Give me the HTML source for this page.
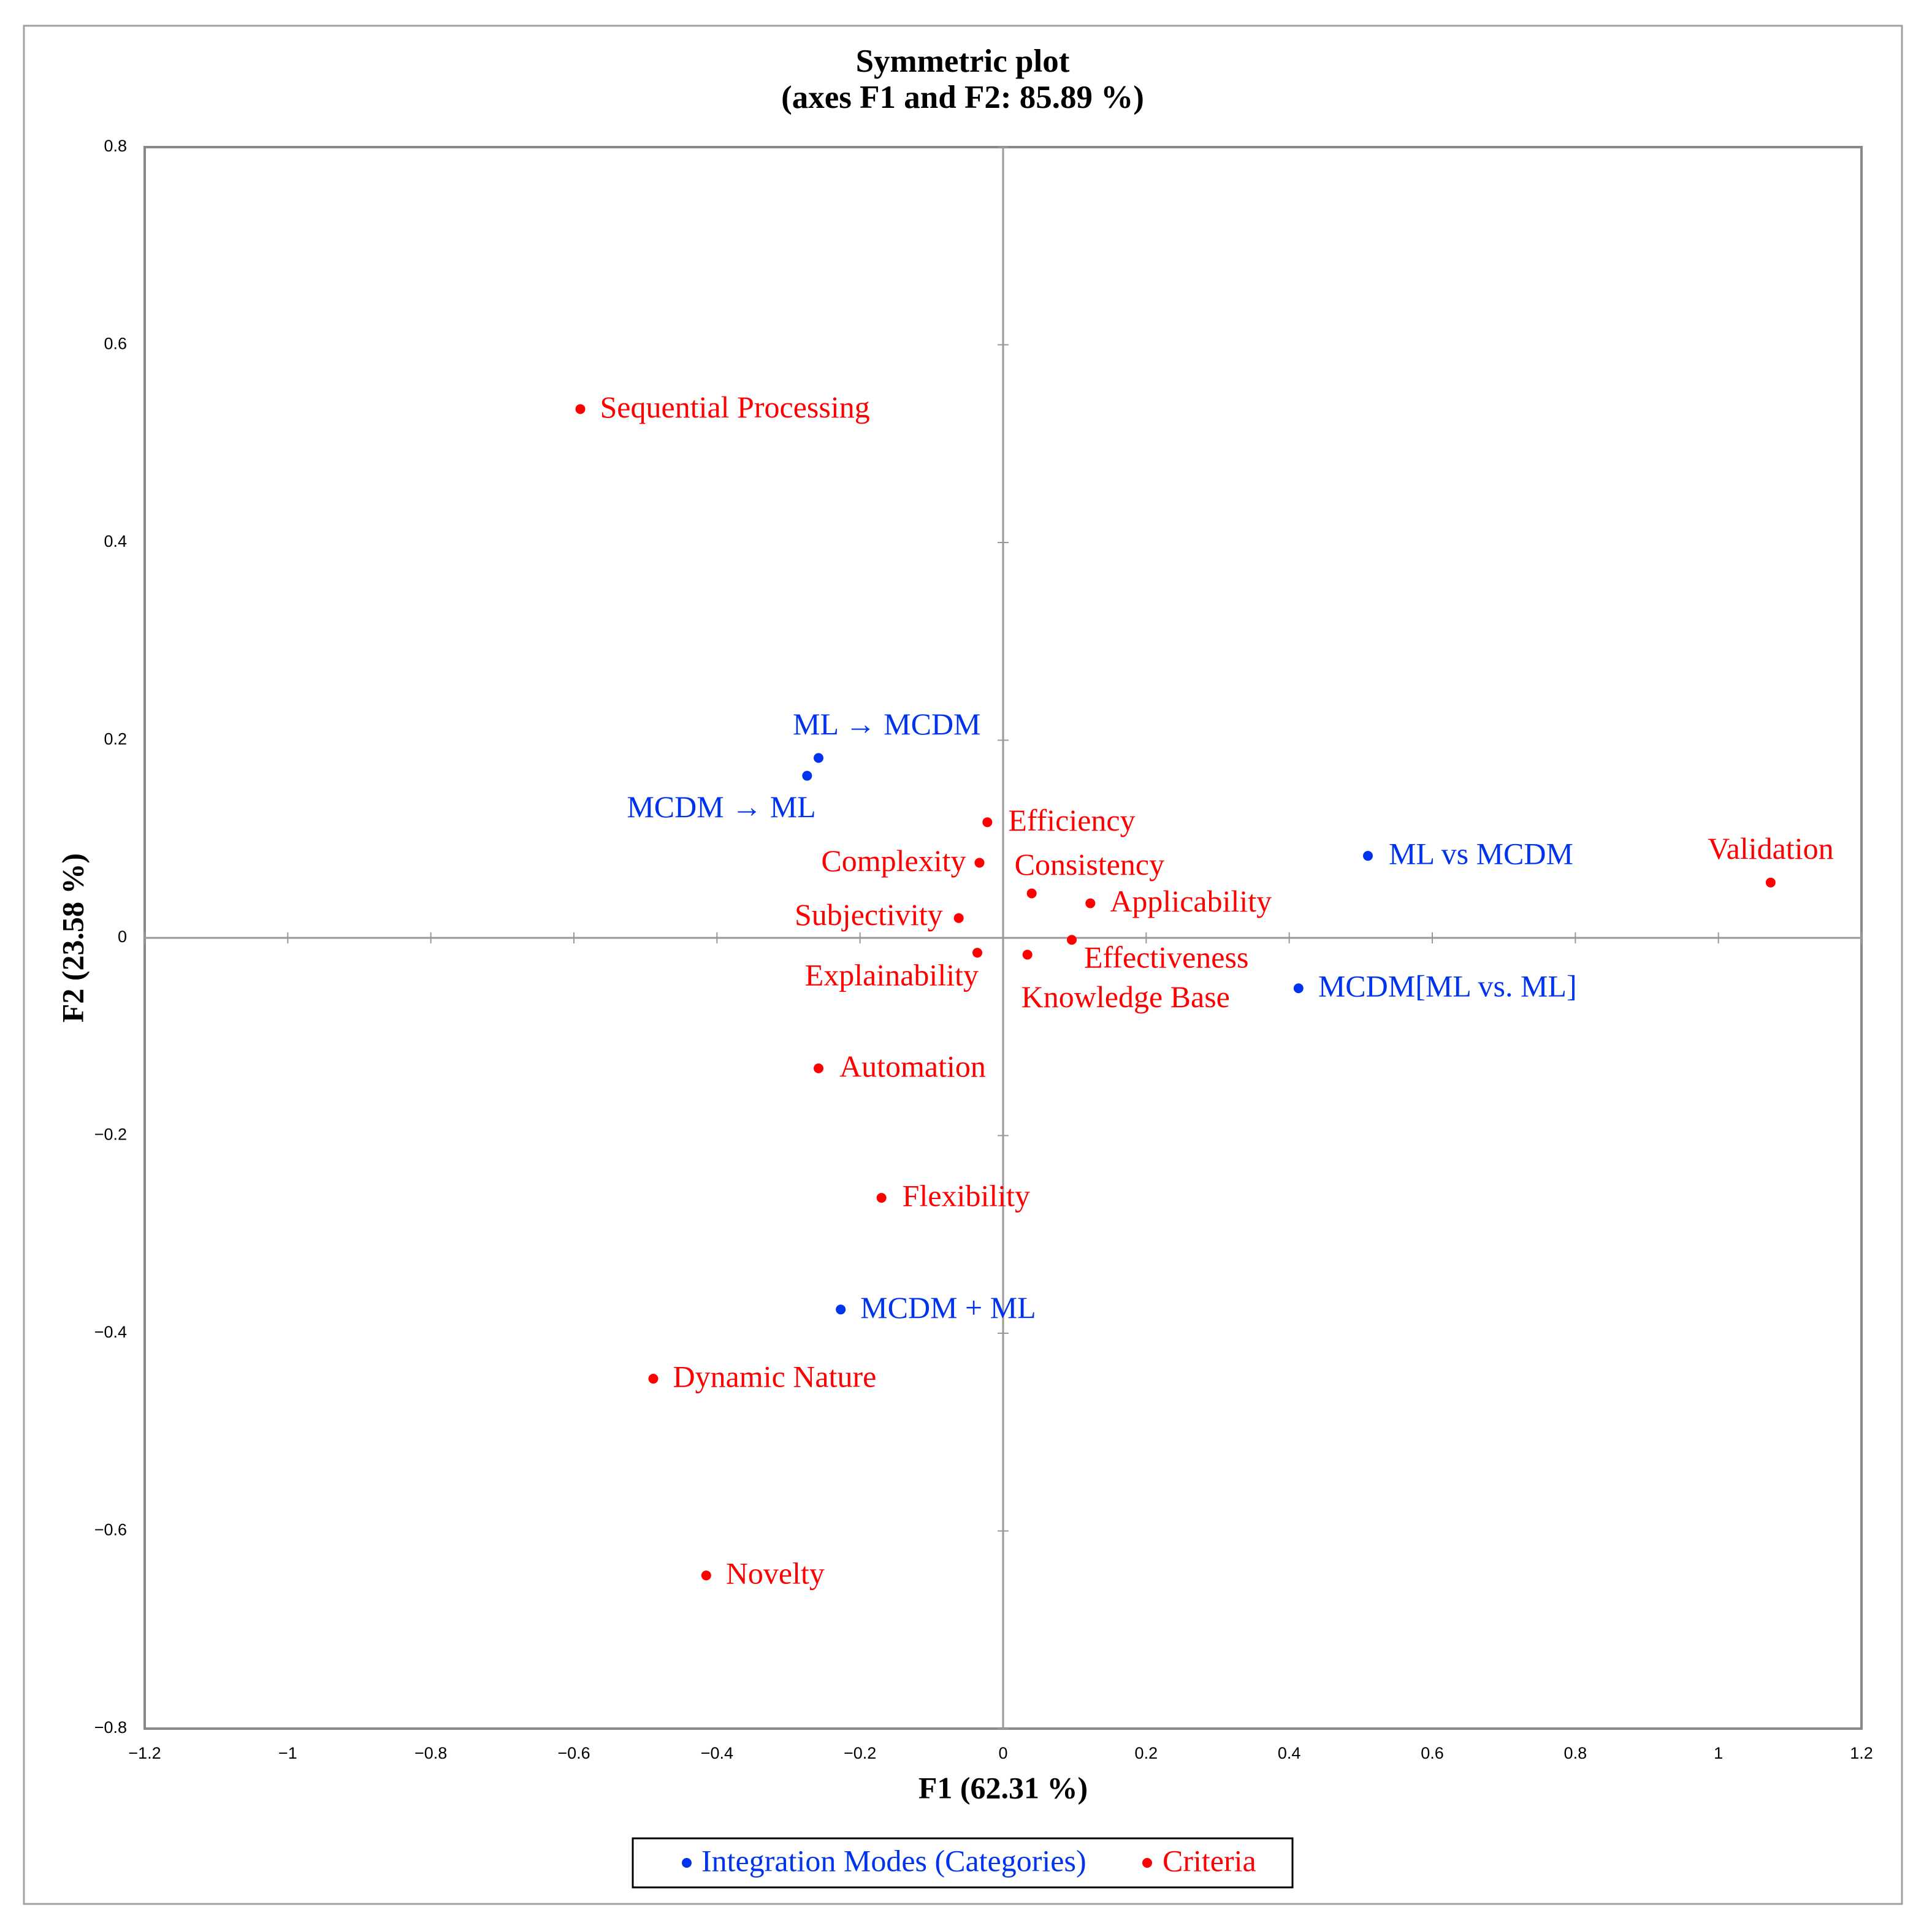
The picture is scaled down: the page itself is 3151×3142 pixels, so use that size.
<!DOCTYPE html>
<html><head><meta charset="utf-8"><style>
html,body{margin:0;padding:0;background:#fff;}
svg{display:block;}
</style></head><body>
<svg id="chart" xmlns="http://www.w3.org/2000/svg" width="3151" height="3142" viewBox="0 0 3151 3142" font-family="'Liberation Serif', serif">
<rect x="39" y="42" width="3063" height="3064" fill="#fff" stroke="#a0a0a0" stroke-width="3"/>
<text x="1570" y="105" font-size="53" font-weight="bold" text-anchor="middle" dominant-baseline="middle">Symmetric plot</text>
<text x="1570" y="164" font-size="53" font-weight="bold" text-anchor="middle" dominant-baseline="middle">(axes F1 and F2: 85.89 %)</text>
<g id="axes"></g>
<g id="marks"></g>
<text x="1636" y="2922" font-size="50" font-weight="bold" text-anchor="middle" dominant-baseline="middle">F1 (62.31 %)</text>
<text x="124" y="1530" font-size="50" font-weight="bold" text-anchor="middle" dominant-baseline="middle" transform="rotate(-90 124 1530)">F2 (23.58 %)</text>
<g>
<rect x="1032" y="2999" width="1076" height="80" fill="#fff" stroke="#000" stroke-width="3"/>
<circle cx="1120" cy="3039" r="8" fill="#0033ee"/>
<text x="1144" y="3041" font-size="50" fill="#0033ee" dominant-baseline="middle">Integration Modes (Categories)</text>
<circle cx="1871" cy="3039" r="8" fill="#ff0000"/>
<text x="1896" y="3041" font-size="50" fill="#ff0000" dominant-baseline="middle">Criteria</text>
</g>
</svg>
<script>
const xTicks = [-1.2,-1,-0.8,-0.6,-0.4,-0.2,0,0.2,0.4,0.6,0.8,1,1.2];
const yTicks = [-0.8,-0.6,-0.4,-0.2,0,0.2,0.4,0.6,0.8];
const pointNames = ["Sequential Processing","ML → MCDM","MCDM → ML","Efficiency","Complexity","Consistency","Applicability","Subjectivity","Explainability","Knowledge Base","Effectiveness","ML vs MCDM","MCDM[ML vs. ML]","Validation","Automation","Flexibility","MCDM + ML","Dynamic Nature","Novelty"];
const f1Values = [-0.591,-0.258,-0.274,-0.022,-0.033,0.040,0.122,-0.062,-0.036,0.034,0.096,0.510,0.413,1.073,-0.258,-0.170,-0.227,-0.489,-0.415];
const f2Values = [0.535,0.182,0.164,0.117,0.076,0.045,0.035,0.020,-0.015,-0.017,-0.002,0.083,-0.051,0.056,-0.132,-0.263,-0.376,-0.446,-0.645];
const pointGroups = ["c","m","m","c","c","c","c","c","c","c","c","m","m","c","c","c","m","c","c"];

const L=236,R=3036,T=240,B=2820;
const sx=v=>L+(v+1.2)/2.4*(R-L);
const sy=v=>B-(v+0.8)/1.6*(B-T);
const NS="http://www.w3.org/2000/svg";
function mk(tag,attrs,parent){const e=document.createElementNS(NS,tag);for(const k in attrs)e.setAttribute(k,attrs[k]);parent.appendChild(e);return e;}
const axes=document.getElementById('axes'), marks=document.getElementById('marks');
let pa=mk('rect',{x:L,y:T,width:R-L,height:B-T,fill:'none',stroke:'#888',"stroke-width":4},axes);


let zx=mk('line',{x1:L,x2:R,y1:sy(0),y2:sy(0),stroke:'#999',"stroke-width":3},axes);


let zy=mk('line',{x1:sx(0),x2:sx(0),y1:T,y2:B,stroke:'#999',"stroke-width":3},axes);


xTicks.forEach(v=>{
  const t=mk('line',{x1:sx(v),x2:sx(v),y1:sy(0)-9,y2:sy(0)+9,stroke:'#999',"stroke-width":2},axes);
  
  
  const s=mk('text',{x:sx(v),y:B+42,"font-size":27,"text-anchor":"middle","dominant-baseline":"middle","font-family":"'Liberation Sans', sans-serif"},axes);
  s.textContent=String(v).replace('-','−');
  
  
});
yTicks.forEach(v=>{
  const t=mk('line',{x1:sx(0)-9,x2:sx(0)+9,y1:sy(v),y2:sy(v),stroke:'#999',"stroke-width":2},axes);
  
  
  const s=mk('text',{x:207,y:sy(v),"font-size":27,"text-anchor":"end","dominant-baseline":"middle","font-family":"'Liberation Sans', sans-serif"},axes);
  s.textContent=String(v).replace('-','−');
  
  
});
const offs={"Sequential Processing":[32,2,"start"],"ML → MCDM":[-42,-50,"start"],"MCDM → ML":[-294,56,"start"],"Efficiency":[34,2,"start"],"Complexity":[-22,2,"end"],"Consistency":[-28,-42,"start"],"Applicability":[32,2,"start"],"Subjectivity":[-26,0,"end"],"Explainability":[2,42,"end"],"Knowledge Base":[-10,74,"start"],"Effectiveness":[20,34,"start"],"ML vs MCDM":[34,2,"start"],"MCDM[ML vs. ML]":[32,2,"start"],"Validation":[0,-50,"middle"],"Automation":[34,2,"start"],"Flexibility":[34,2,"start"],"MCDM + ML":[32,2,"start"],"Dynamic Nature":[32,2,"start"],"Novelty":[32,2,"start"]};
pointNames.forEach((n,i)=>{
  const col=pointGroups[i]==="m"?"#0033ee":"#ff0000";
  const x=sx(f1Values[i]), y=sy(f2Values[i]);
  const c=mk('circle',{cx:x,cy:y,r:8,fill:col},marks);
  
  
  const o=offs[n]||[32,2,"start"];
  const t=mk('text',{x:x+o[0],y:y+o[1],"font-size":50,fill:col,"text-anchor":o[2],"dominant-baseline":"middle"},marks);
  t.textContent=n;
  
  
});
</script>
</body></html>
